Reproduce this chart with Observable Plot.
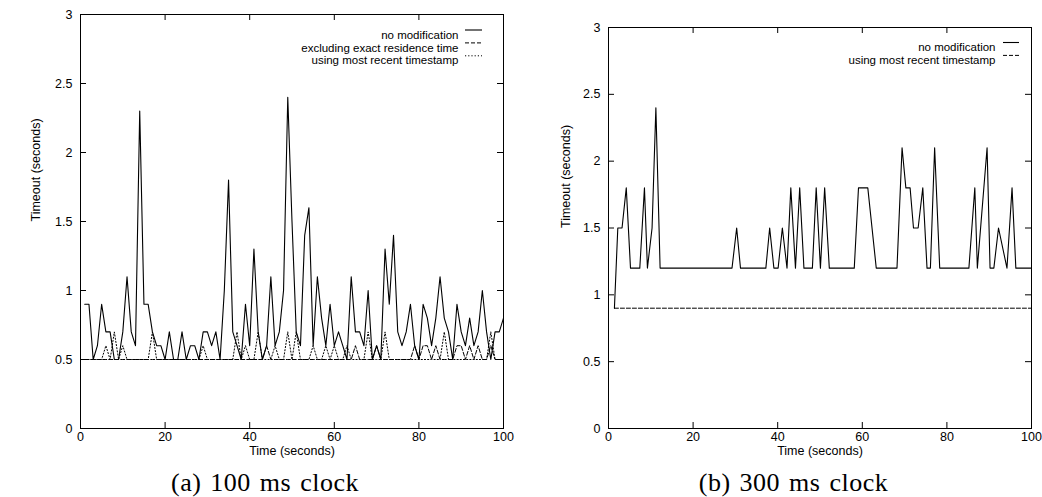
<!DOCTYPE html>
<html><head><meta charset="utf-8">
<script src="https://cdn.jsdelivr.net/npm/d3@7"></script>
<script src="https://cdn.jsdelivr.net/npm/@observablehq/plot@0.6"></script>
<style>
body{margin:0;background:#fff;}
#wrap{display:flex;width:1042px;height:497px;}
.panel{width:521px;}
.cap{font-family:"Liberation Serif","Times New Roman",serif;font-size:26px;letter-spacing:0.5px;word-spacing:2px;text-align:center;height:32px;line-height:36px;color:#000;}
</style></head><body><div id="wrap"><div class="panel" id="a"></div><div class="panel" id="b"></div></div>
<script>
// ---- data ----
const yTicks = [0, 0.5, 1, 1.5, 2, 2.5, 3];
const xTicks = [0, 20, 40, 60, 80, 100];
const captions = ["(a) 100 ms clock", "(b) 300 ms clock"];
const xLabel = "Time (seconds)";
const yLabel = "Timeout (seconds)";
const legendA = ["no modification", "excluding exact residence time", "using most recent timestamp"];
const legendB = ["no modification", "using most recent timestamp"];

// panel (a): 100 ms clock
const timesA = [1,2,3,4,5,6,7,8,9,10,11,12,13,14,15,16,17,18,19,20,21,22,23,24,25,26,27,28,29,30,
  31,32,33,34,35,36,37,38,39,40,41,42,43,44,45,46,47,48,49,50,51,52,53,54,55,56,57,58,59,60,
  61,62,63,64,65,66,67,68,69,70,71,72,73,74,75,76,77,78,79,80,81,82,83,84,85,86,87,88,89,90,
  91,92,93,94,95,96,97,98,99,100];
const noModA = [0.9,0.9,0.5,0.6,0.9,0.7,0.7,0.5,0.5,0.7,
  1.1,0.7,0.6,2.3,0.9,0.9,0.7,0.6,0.6,0.5,
  0.7,0.5,0.5,0.7,0.5,0.6,0.6,0.5,0.7,0.7,
  0.6,0.7,0.5,1.0,1.8,0.7,0.6,0.5,0.9,0.6,
  1.3,0.7,0.5,0.6,1.1,0.6,0.7,1.0,2.4,1.5,
  0.7,0.6,1.4,1.6,0.6,1.1,0.8,0.6,0.9,0.6,
  0.7,0.6,0.5,1.1,0.7,0.7,0.6,1.0,0.5,0.6,
  0.5,1.3,0.9,1.4,0.7,0.6,0.7,0.9,0.6,0.5,
  0.9,0.8,0.6,0.8,1.1,0.8,0.7,0.5,0.9,0.7,
  0.6,0.8,0.6,0.7,1.0,0.7,0.5,0.7,0.7,0.8];
const exclA = [0.5,0.5,0.5,0.5,0.5,0.5,0.5,0.5,0.5,0.5,
  0.5,0.5,0.5,0.5,0.5,0.5,0.5,0.5,0.5,0.5,
  0.5,0.5,0.5,0.5,0.5,0.5,0.5,0.5,0.5,0.5,
  0.5,0.5,0.5,0.5,0.5,0.5,0.5,0.5,0.5,0.5,
  0.5,0.5,0.5,0.6,0.5,0.5,0.5,0.5,0.5,0.5,
  0.5,0.5,0.5,0.5,0.5,0.5,0.5,0.5,0.5,0.5,
  0.5,0.5,0.5,0.5,0.6,0.5,0.5,0.5,0.5,0.6,
  0.5,0.5,0.5,0.5,0.5,0.5,0.5,0.5,0.6,0.5,
  0.6,0.6,0.5,0.6,0.5,0.5,0.5,0.5,0.6,0.6,
  0.5,0.6,0.5,0.6,0.5,0.5,0.6,0.5,0.5,0.5];
const recentA = [0.5,0.5,0.5,0.5,0.5,0.6,0.5,0.7,0.5,0.6,
  0.5,0.5,0.5,0.5,0.5,0.5,0.7,0.5,0.5,0.5,
  0.5,0.5,0.5,0.5,0.5,0.5,0.5,0.5,0.6,0.5,
  0.5,0.5,0.5,0.5,0.5,0.5,0.7,0.5,0.6,0.5,
  0.5,0.7,0.5,0.5,0.5,0.6,0.5,0.5,0.7,0.5,
  0.7,0.5,0.5,0.5,0.6,0.5,0.5,0.6,0.5,0.6,
  0.5,0.5,0.6,0.5,0.5,0.5,0.5,0.7,0.5,0.5,
  0.5,0.7,0.5,0.5,0.5,0.5,0.5,0.5,0.5,0.5,
  0.5,0.5,0.5,0.5,0.5,0.7,0.5,0.5,0.5,0.5,
  0.5,0.5,0.5,0.5,0.5,0.5,0.7,0.5,0.5,0.5];

// panel (b): 300 ms clock
const timesB = [1.4,2.2,3.2,4.2,5.2,7.4,8.5,9.2,10.3,11.2,12.2,29.2,30.3,31.2,37.2,38.1,39.1,40.1,41.1,42.2,
  43.1,44.2,45.2,46.2,48.2,49.1,50.1,51.1,52.2,58.1,59.1,61.3,63.3,68.2,69.4,70.3,71.3,72.1,73.2,74.3,
  75.3,76.1,77.1,78.3,85.2,86.6,87.2,89.5,90.2,91.1,92.2,94.2,95.4,96.3,100];
const noModB = [0.9,1.5,1.5,1.8,1.2,1.2,1.8,1.2,1.5,2.4,1.2,1.2,1.5,1.2,1.2,1.5,1.2,1.2,1.5,1.2,
  1.8,1.2,1.8,1.2,1.2,1.8,1.2,1.8,1.2,1.2,1.8,1.8,1.2,1.2,2.1,1.8,1.8,1.5,1.5,1.8,
  1.2,1.2,2.1,1.2,1.2,1.8,1.2,2.1,1.2,1.2,1.5,1.2,1.8,1.2,1.2];
const recentTimesB = [1.4, 100];
const recentB = [0.9, 0.9];

// ---- drawing ----
const FONT = "'Liberation Sans', Arial, Helvetica, sans-serif";

function legendLines(entries, {top, step, right, len}) {
  return (index, scales, values, dims) => {
    const g = d3.create("svg:g");
    entries.forEach((e, i) => {
      const y = dims.marginTop + top + i * step;
      const x2 = dims.width - dims.marginRight - right;
      g.append("line")
        .attr("x1", x2 - len).attr("x2", x2)
        .attr("y1", y).attr("y2", y)
        .attr("stroke", "black").attr("stroke-width", e.width)
        .attr("stroke-dasharray", e.dash);
    });
    return g.node();
  };
}

function panel(el, cfg) {
  const W = 521, H = 465;
  const fw = W - cfg.ml - cfg.mr, fh = H - cfg.mt - cfg.mb;
  const TL = 6;
  const marks = [
    Plot.frame({stroke: "black", strokeWidth: 1}),
    Plot.tickY(yTicks, {y: d => d, insetRight: fw - TL, stroke: "black"}),
    Plot.tickY(yTicks, {y: d => d, insetLeft: fw - TL, stroke: "black"}),
    Plot.tickX(xTicks, {x: d => d, insetTop: fh - TL, stroke: "black"}),
    Plot.tickX(xTicks, {x: d => d, insetBottom: fh - TL, stroke: "black"}),
    Plot.axisY(yTicks, {tickSize: 0, tickPadding: 8, tickFormat: d => String(d), label: null, fontSize: 12.5}),
    Plot.axisX(xTicks, {tickSize: 0, tickPadding: 4, tickFormat: d => String(d), label: null, fontSize: 12.5}),
    Plot.text([xLabel], {frameAnchor: "bottom", dy: 26.5, fontSize: 12.5}),
    Plot.text([yLabel], {frameAnchor: "left", rotate: -90, dx: cfg.ylx, fontSize: 12.5}),
  ];
  cfg.series.forEach(s => {
    marks.push(Plot.line(s.t.map((t, i) => ({t, v: s.v[i]})), {
      x: "t", y: "v", stroke: "black", strokeWidth: s.width, strokeDasharray: s.dash, clip: true
    }));
  });
  cfg.legend.forEach((lab, i) => {
    marks.push(Plot.text([lab], {frameAnchor: "top-right", textAnchor: "end", dx: -cfg.lg.textRight, dy: cfg.lg.top + i * cfg.lg.step, fontSize: 11.5}));
  });
  marks.push(legendLines(cfg.series, cfg.lg));
  const svg = Plot.plot({
    width: W, height: H,
    marginLeft: cfg.ml, marginRight: cfg.mr, marginTop: cfg.mt, marginBottom: cfg.mb,
    style: {fontFamily: FONT, fontSize: "12.5px", background: "white", color: "black"},
    x: {domain: [0, 100]},
    y: {domain: [0, 3]},
    marks
  });
  el.appendChild(svg);
  const cap = document.createElement("div");
  cap.className = "cap";
  cap.style.paddingLeft = cfg.capShift + "px";
  cap.textContent = cfg.caption;
  el.appendChild(cap);
}

panel(document.getElementById("a"), {
  ml: 80, mr: 18, mt: 14, mb: 37, ylx: -45, capShift: 9,
  caption: captions[0],
  legend: legendA,
  lg: {top: 16, step: 12.9, textRight: 45, right: 21, len: 17},
  series: [
    {t: timesA, v: noModA, width: 1.1, dash: null},
    {t: timesA, v: exclA, width: 1, dash: "4,2"},
    {t: timesA, v: recentA, width: 1, dash: "1.2,2"}
  ]
});
panel(document.getElementById("b"), {
  ml: 87, mr: 11, mt: 27, mb: 37, ylx: -43, capShift: 24,
  caption: captions[1],
  legend: legendB,
  lg: {top: 15.5, step: 12.9, textRight: 36, right: 12, len: 16},
  series: [
    {t: timesB, v: noModB, width: 1.1, dash: null},
    {t: recentTimesB, v: recentB, width: 1, dash: "4,2"}
  ]
});
</script></body></html>
